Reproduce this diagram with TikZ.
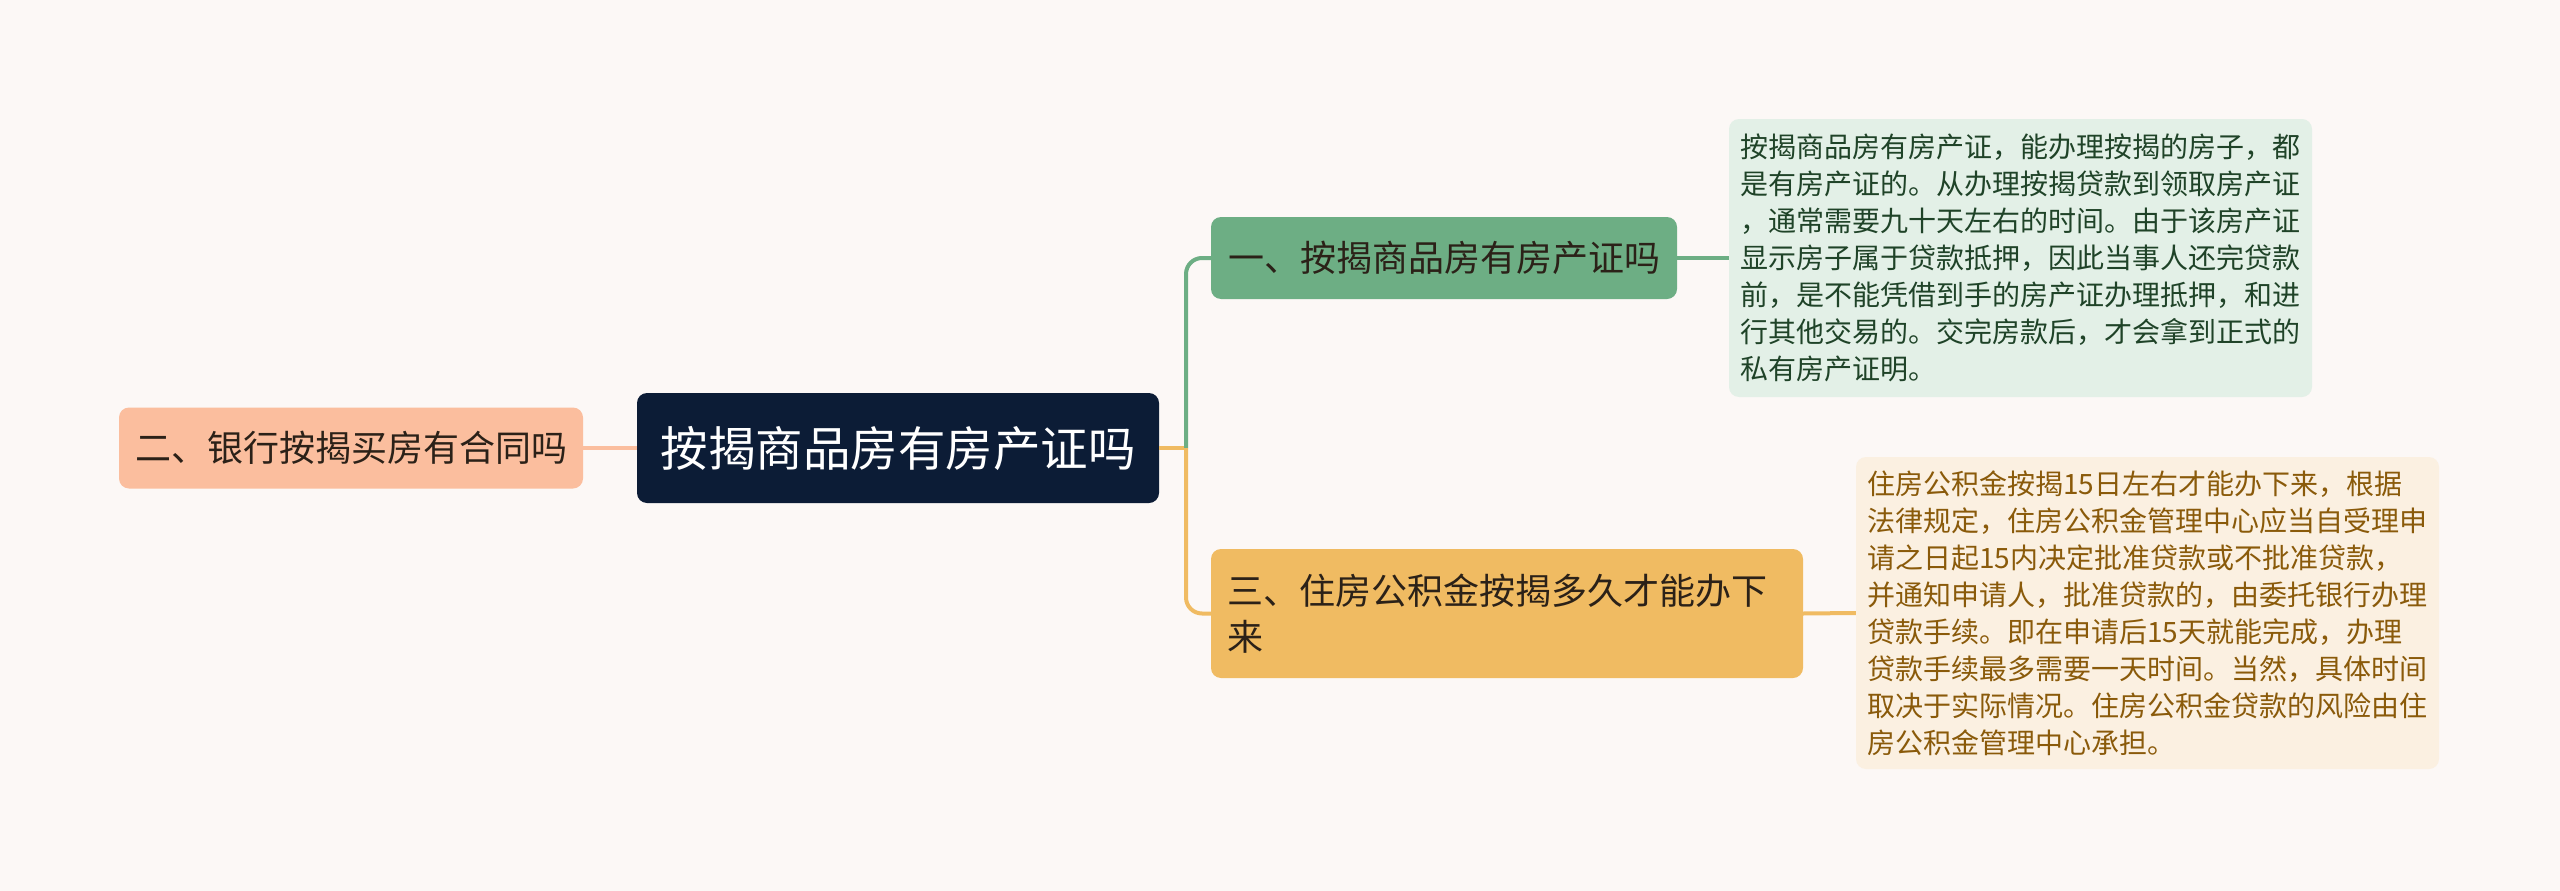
\documentclass[tikz,border=0pt]{standalone}
\usepackage{fontspec}
\setmainfont{Noto Sans CJK SC}
\definecolor{bgpaper}{HTML}{FCF8F6}
\definecolor{rootfill}{HTML}{0C1C36}
\definecolor{peachfill}{HTML}{FBBE9E}
\definecolor{greenfill}{HTML}{6DAE84}
\definecolor{orangefill}{HTML}{F0BB62}
\definecolor{greenleaf}{HTML}{E3F0E7}
\definecolor{orangeleaf}{HTML}{FBF0E1}
\definecolor{greentext}{HTML}{1F4328}
\definecolor{browntext}{HTML}{8A5A0A}
\definecolor{darktext}{HTML}{2B2118}
\tikzset{
  topic/.style={rounded corners=10pt, inner xsep=16pt, inner ysep=0pt, text=darktext,
    font=\fontsize{36}{46}\selectfont},
  leaf/.style={rounded corners=10pt, inner xsep=11pt, inner ysep=0pt, align=left,
    text width=561pt, font=\fontsize{28}{37}\selectfont},
  link/.style={line width=4pt},
}

\begin{document}
\begin{tikzpicture}[x=1pt,y=-1pt]
  \fill[bgpaper] (0,0) rectangle (2560,891);
  \useasboundingbox (0,0) rectangle (2560,891);
  \node[topic, fill=rootfill, text=white, minimum width=522pt, minimum height=110pt,
    font=\fontsize{47.5}{56}\selectfont] (root) at (898,448) {按揭商品房有房产证吗};
  \node[topic, fill=peachfill, minimum width=464pt, minimum height=81pt] (b2) at (351,448)
    {二、银行按揭买房有合同吗};
  \node[topic, fill=greenfill, minimum width=466pt, minimum height=82pt] (b1) at (1444,258)
    {一、按揭商品房有房产证吗};
  \node[topic, fill=orangefill, text width=560pt, align=left, minimum height=129pt] (b3)
    at (1507,613.5) {三、住房公积金按揭多久才能办下\\来};
  \node[leaf, fill=greenleaf, text=greentext, minimum height=278pt] (l1) at (2020.5,258)
    {按揭商品房有房产证，能办理按揭的房子，都\\是有房产证的。从办理按揭贷款到领取房产证\\，通常需要九十天左右的时间。由于该房产证\\显示房子属于贷款抵押，因此当事人还完贷款\\前，是不能凭借到手的房产证办理抵押，和进\\行其他交易的。交完房款后，才会拿到正式的\\私有房产证明。};
  \node[leaf, fill=orangeleaf, text=browntext, minimum height=312pt] (l3) at (2147.5,613)
    {住房公积金按揭15日左右才能办下来，根据\\法律规定，住房公积金管理中心应当自受理申\\请之日起15内决定批准贷款或不批准贷款，\\并通知申请人，批准贷款的，由委托银行办理\\贷款手续。即在申请后15天就能完成，办理\\贷款手续最多需要一天时间。当然，具体时间\\取决于实际情况。住房公积金贷款的风险由住\\房公积金管理中心承担。};
  \coordinate (hub) at (1186,448);
  \draw[link, peachfill] (b2.east) -- (root.west);
  \draw[link, orangefill] (root.east) -- (hub);
  \draw[link, greenfill, rounded corners=16pt] (hub) |- (b1.west);
  \draw[link, orangefill, rounded corners=16pt] (hub) |- (b3.west);
  \draw[link, greenfill] (b1.east) -- (l1.west);
  \draw[link, orangefill] (b3.east) -- (l3.west);
\end{tikzpicture}
\end{document}
